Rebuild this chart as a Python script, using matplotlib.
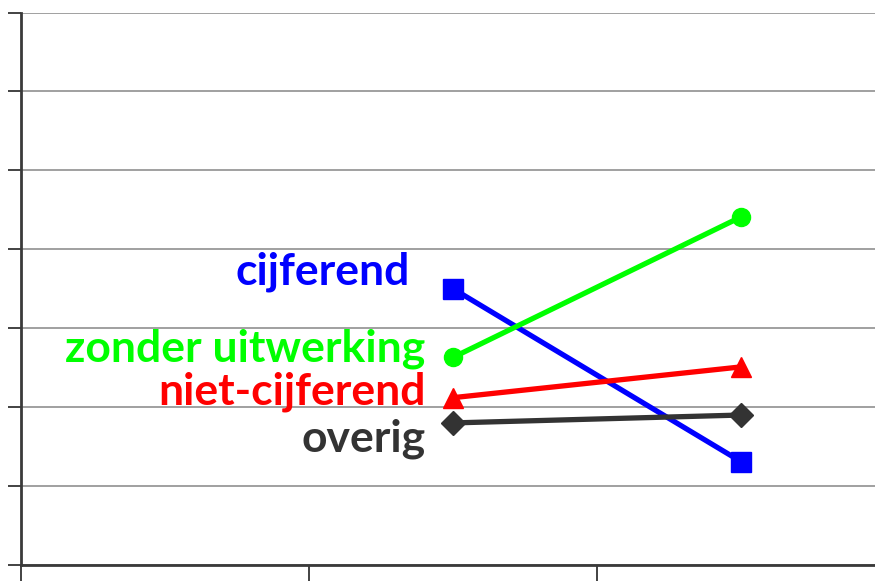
import matplotlib.pyplot as plt

# categorie-posities (eerste kolom leeg)
categories = ["", "voor", "na"]
x_idx = [1, 2]

cijferend = [3.50, 1.31]
zonder_uitwerking = [2.63, 4.41]
niet_cijferend = [2.12, 2.51]
overig = [1.80, 1.90]

series = [
    ("cijferend", cijferend, "#0000FF", "s", 14, 0.851, 3.72),
    ("zonder uitwerking", zonder_uitwerking, "#00FF00", "o", 13, 0.905, 2.74),
    ("niet-cijferend", niet_cijferend, "#FF0000", "^", 15, 0.905, 2.20),
    ("overig", overig, "#333333", "D", 12, 0.905, 1.60),
]

fig = plt.figure(figsize=(8.75, 5.81), dpi=100)
ax = fig.add_axes([21 / 875, 16 / 581, 864 / 875, 552.5 / 581])

for name, vals, col, mk, ms, tx, ty in series:
    ax.plot(x_idx, vals, color=col, lw=3.8, marker=mk, markersize=ms,
            solid_capstyle="butt", zorder=3)
    ax.text(tx, ty, name, color=col, ha="right", va="center",
            fontsize=32, fontweight="bold", family=["Lato", "DejaVu Sans"])

ax.set_xlim(-0.5, 2.5)
ax.set_ylim(0, 7)
ax.set_yticks(range(0, 8))
ax.set_yticklabels([])
ax.set_xticks([-0.5, 0.5, 1.5, 2.5])
ax.set_xticklabels([])
ax.tick_params(axis="y", direction="out", length=9.5, width=1.2, color="#222222")
ax.tick_params(axis="x", direction="out", length=14, width=1.2, color="#222222")

ax.grid(axis="y", color="#999999", lw=1.3)
ax.set_axisbelow(True)
for s in ["top", "right"]:
    ax.spines[s].set_visible(False)
for s in ["left", "bottom"]:
    ax.spines[s].set_color("#3a3a3a")
    ax.spines[s].set_linewidth(2)

plt.savefig("out.png", dpi=100)
